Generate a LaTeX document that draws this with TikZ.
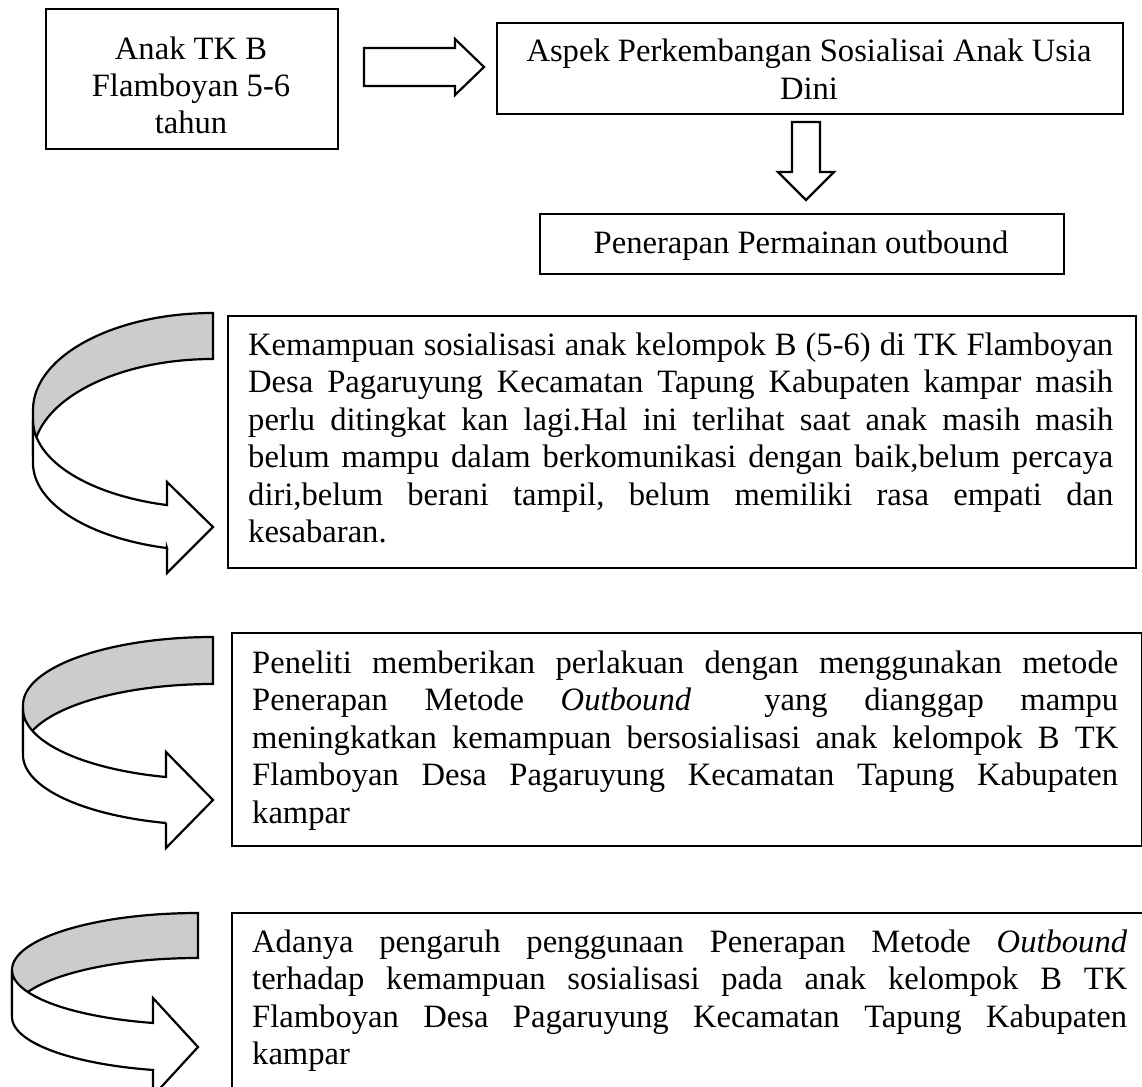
\documentclass[tikz,border=0pt]{standalone}
\usepackage{fontspec}
\setmainfont{Liberation Serif}
\definecolor{backgray}{RGB}{204,204,204}
\newcommand\jl[1]{\hbox to \linewidth{\spaceskip=0.25em plus 1fil\relax #1}}
\begin{document}
\begin{tikzpicture}[x=1pt,y=-1pt,
  box/.style={draw, line width=2.4pt, inner sep=0pt, anchor=north west},
  shp/.style={draw, line width=2.2pt, line join=miter, fill=white},
  back/.style={draw, line width=2.2pt, line join=miter, fill=backgray},
  txt/.style={inner sep=0pt, font=\fontsize{32.6}{37.5}\selectfont}]
\useasboundingbox (0,0) rectangle (1142,1086);
\clip (0,0) rectangle (1142,1086);
\fill[white] (0,0) rectangle (1142,1086);

% top boxes
\node[box, minimum width=292pt, minimum height=140pt] (b1) at (45,8) {};
\node[box, minimum width=626pt, minimum height=91pt] (b2) at (496,22) {};
\node[box, minimum width=524pt, minimum height=60pt] (b3) at (539,213) {};

\node[txt, anchor=base] (t1a) at (191,60) {Anak TK B};
\node[txt, anchor=base] (t1b) at (191,97) {Flamboyan 5-6};
\node[txt, anchor=base] (t1c) at (191,134) {tahun};
\node[txt, anchor=base] (t2a) at (809,62) {Aspek Perkembangan Sosialisai Anak Usia};
\node[txt, anchor=base] (t2b) at (809,100) {Dini};
\node[txt, anchor=base] (t3) at (801,253) {Penerapan Permainan outbound};

% block arrows
\draw[shp] (364,48) -- (455,48) -- (455,39) -- (484,67) -- (455,95) -- (455,86) -- (364,86) -- cycle;
\draw[shp] (792,122) -- (820,122) -- (820,172) -- (834,172) -- (806,200) -- (778,172) -- (792,172) -- cycle;

% big boxes
\node[box, minimum width=908pt, minimum height=252pt] (b4) at (227,315) {};
\node[box, minimum width=910pt, minimum height=213pt] (b5) at (231,632) {};
\node[box, minimum width=921pt, minimum height=200pt] (b6) at (231,912) {};

\node[txt, anchor=base west] (p4) at (248,355) {\parbox[t]{865pt}{\frenchspacing
\jl{Kemampuan sosialisasi anak kelompok B (5-6) di TK Flamboyan}
\jl{Desa Pagaruyung Kecamatan Tapung Kabupaten kampar masih}
\jl{perlu ditingkat kan lagi.Hal ini terlihat saat anak masih masih}
\jl{belum mampu dalam berkomunikasi dengan baik,belum percaya}
\jl{diri,belum berani tampil, belum memiliki rasa empati dan}
\hbox{kesabaran.}}};

\node[txt, anchor=base west] (p5) at (252,673) {\parbox[t]{866pt}{\frenchspacing
\jl{Peneliti memberikan perlakuan dengan menggunakan metode}
\jl{Penerapan Metode \textit{Outbound}\hspace{0.25em plus 1fil} yang dianggap mampu}
\jl{meningkatkan kemampuan bersosialisasi anak kelompok B TK}
\jl{Flamboyan Desa Pagaruyung Kecamatan Tapung Kabupaten}
\hbox{kampar}}};

\node[txt, anchor=base west] (p6) at (252,952) {\parbox[t]{875pt}{\frenchspacing
\jl{Adanya pengaruh penggunaan Penerapan Metode \textit{Outbound}}
\jl{terhadap kemampuan sosialisasi pada anak kelompok B TK}
\jl{Flamboyan Desa Pagaruyung Kecamatan Tapung Kabupaten}
\hbox{kampar}}};

% curved arrow 1
\draw[back] (213,313) .. controls (113.6,313) and (33,356.4) .. (33,410) -- (33,456)
  .. controls (33,402.4) and (113.6,359) .. (213,359) -- cycle;
\draw[shp] plot[domain=180:104.8, samples=40] ({213+180*cos(\x)},{420+88*sin(\x)})
  -- (167,482) -- (213,527) -- (167,573) -- (167,548)
  -- plot[domain=104.8:180, samples=40] ({213+180*cos(\x)},{463+88*sin(\x)}) -- cycle;

% curved arrow 2
\draw[back] (213,637) .. controls (108.1,637) and (23,667.4) .. (23,705) -- (23,752)
  .. controls (23,714.4) and (108.1,684) .. (213,684) -- cycle;
\draw[shp] plot[domain=180:104.3, samples=40] ({213+190*cos(\x)},{709+70.2*sin(\x)})
  -- (166,752) -- (213,800) -- (166,848) -- (166,823)
  -- plot[domain=104.3:180, samples=40] ({213+190*cos(\x)},{755+70.2*sin(\x)}) -- cycle;

% curved arrow 3
\draw[back] (198,913) .. controls (95.3,913) and (12,938.5) .. (12,970) -- (12,1015)
  .. controls (12,983.5) and (95.3,958) .. (198,958) -- cycle;
\draw[shp] plot[domain=180:104, samples=40] ({198+186*cos(\x)},{970+54.6*sin(\x)})
  -- (153,998) -- (198,1047) -- (153,1096) -- (153,1070)
  -- plot[domain=104:180, samples=40] ({198+186*cos(\x)},{1017+54.6*sin(\x)}) -- cycle;
\end{tikzpicture}
\end{document}
